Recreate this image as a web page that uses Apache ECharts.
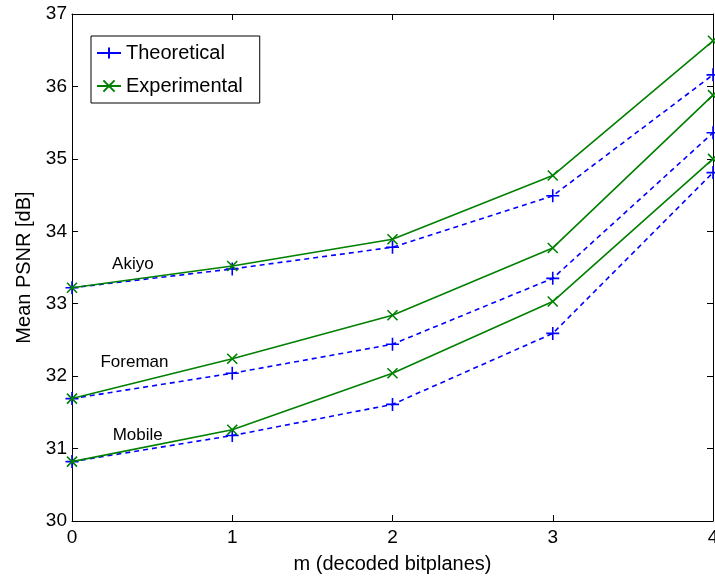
<!DOCTYPE html>
<html>
<head>
<meta charset="utf-8">
<script src="https://cdn.jsdelivr.net/npm/echarts@6/dist/echarts.min.js"></script>
<style>
  html, body { margin: 0; padding: 0; background: #fff; }
  #chart { width: 715px; height: 581px; }
</style>
</head>
<body>
<div id="chart"></div>
<script>
// x positions (decoded bitplanes)
const bitplanes = [0, 1, 2, 3, 4]

// mean PSNR [dB]
const akiyoTheo = [33.22, 33.48, 33.78, 34.49, 36.16]
const akiyoExp = [33.22, 33.52, 33.89, 34.77, 36.63]
const foremanTheo = [31.69, 32.04, 32.44, 33.35, 35.36]
const foremanExp = [31.69, 32.24, 32.84, 33.77, 35.88]
const mobileTheo = [30.82, 31.18, 31.61, 32.59, 34.81]
const mobileExp = [30.82, 31.26, 32.04, 33.03, 35.0]

// sequence labels, placed in data coordinates
const seqNames = ['Akiyo', 'Foreman', 'Mobile']
const seqLabelPos = [[0.38, 33.55], [0.39, 32.19], [0.41, 31.18]]

const FONT = 'Liberation Sans'
const BLUE = '#0000ff'
const GREEN = '#008000'
const PLUS = 'path://M0,5L10,5M5,0L5,10'
const CROSS = 'path://M0,0L10,10M10,0L0,10'

const pairs = (ys) => bitplanes.map((x, i) => [x, ys[i]])

const theoSeries = (ys, idx) => ({
  name: 'Theoretical',
  type: 'line',
  data: pairs(ys),
  symbol: PLUS,
  symbolSize: 13,
  showSymbol: true,
  clip: true,
  itemStyle: { color: BLUE, borderColor: BLUE, borderWidth: 1.6 },
  lineStyle: { color: BLUE, width: 1.6, type: [5, 4] },
  emphasis: { disabled: true },
  z: 2,
  markPoint: {
    symbol: 'circle',
    symbolSize: 0,
    silent: true,
    label: {
      show: true,
      formatter: seqNames[idx],
      color: '#000',
      fontFamily: FONT,
      fontSize: 17,
      align: 'center',
      verticalAlign: 'middle'
    },
    data: [{ coord: seqLabelPos[idx] }]
  }
})

const expSeries = (ys) => ({
  name: 'Experimental',
  type: 'line',
  data: pairs(ys),
  symbol: CROSS,
  symbolSize: 10,
  showSymbol: true,
  clip: true,
  itemStyle: { color: GREEN, borderColor: GREEN, borderWidth: 1.6 },
  lineStyle: { color: GREEN, width: 1.6, type: 'solid' },
  emphasis: { disabled: true },
  z: 3
})

const boxLine = { show: true, onZero: false, lineStyle: { color: '#000', width: 1 } }
const inTick = { show: true, inside: true, length: 6, lineStyle: { color: '#000' } }

const chart = echarts.init(document.getElementById('chart'), null, { renderer: 'canvas' })

chart.setOption({
  animation: false,
  backgroundColor: '#fff',
  grid: { left: 72, right: 2, top: 14, bottom: 60, outerBoundsMode: 'none', containLabel: false },
  legend: {
    orient: 'vertical',
    left: 91,
    top: 36,
    padding: [7, 17, 7, 5],
    backgroundColor: '#fff',
    borderColor: '#000',
    borderWidth: 1,
    borderRadius: 0,
    itemWidth: 24,
    itemHeight: 14,
    itemGap: 13,
    selectedMode: false,
    textStyle: { fontFamily: FONT, fontSize: 20, color: '#000', lineHeight: 20 },
    data: [
      { name: 'Theoretical', lineStyle: { type: 'solid' } },
      { name: 'Experimental' }
    ]
  },
  xAxis: [
    {
      type: 'value',
      min: 0,
      max: 4,
      interval: 1,
      name: 'm (decoded bitplanes)',
      nameLocation: 'middle',
      nameGap: 33,
      nameTextStyle: { fontFamily: FONT, fontSize: 20, color: '#000' },
      axisLine: boxLine,
      axisTick: inTick,
      splitLine: { show: false },
      axisLabel: { fontFamily: FONT, fontSize: 19, color: '#000', margin: 7 }
    },
    {
      type: 'value',
      position: 'top',
      min: 0,
      max: 4,
      interval: 1,
      axisLine: boxLine,
      axisTick: inTick,
      splitLine: { show: false },
      axisLabel: { show: false }
    }
  ],
  yAxis: [
    {
      type: 'value',
      min: 30,
      max: 37,
      interval: 1,
      name: 'Mean PSNR [dB]',
      nameLocation: 'middle',
      nameGap: 33,
      nameTextStyle: { fontFamily: FONT, fontSize: 20, color: '#000' },
      axisLine: boxLine,
      axisTick: inTick,
      splitLine: { show: false },
      axisLabel: { fontFamily: FONT, fontSize: 19, color: '#000', margin: 5 }
    },
    {
      type: 'value',
      position: 'right',
      min: 30,
      max: 37,
      interval: 1,
      axisLine: boxLine,
      axisTick: inTick,
      splitLine: { show: false },
      axisLabel: { show: false }
    }
  ],
  series: [
    theoSeries(akiyoTheo, 0),
    expSeries(akiyoExp),
    theoSeries(foremanTheo, 1),
    expSeries(foremanExp),
    theoSeries(mobileTheo, 2),
    expSeries(mobileExp)
  ]
})
</script>
</body>
</html>
